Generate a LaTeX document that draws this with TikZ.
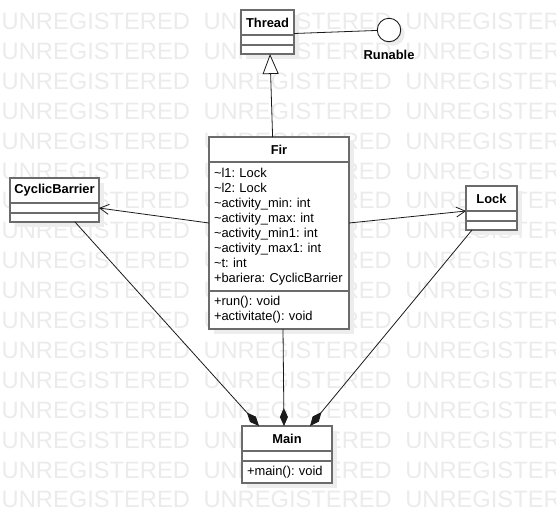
\documentclass[tikz,border=0pt]{standalone}
\usepackage{fontspec}
\setmainfont{Liberation Sans}
\usetikzlibrary{positioning,arrows.meta,shadows}
\definecolor{umlgray}{HTML}{6B6B6B}
\definecolor{wmgray}{HTML}{EBEBEB}
\definecolor{shadowgray}{HTML}{EDEDED}
\definecolor{linkblack}{HTML}{1A1A1A}
\frenchspacing

\begin{document}
\begin{tikzpicture}[
    x=1pt, y=-1pt,
    every node/.style={font=\fontsize{12.9}{15}\selectfont},
    wmark/.style={
        font=\fontsize{23.7}{24}\selectfont, text=wmgray,
        inner sep=0pt, anchor=base west
    },
    classname/.style={
        draw=umlgray, fill=white, line width=1.5pt,
        inner sep=0pt, outer sep=0pt,
        minimum width=#1, minimum height=25pt,
        font=\fontsize{12.9}{15}\selectfont\bfseries,
        drop shadow={shadow xshift=5pt, shadow yshift=-5pt, fill=shadowgray, opacity=1}
    },
    compart/.style={
        draw=umlgray, fill=white, line width=1.5pt,
        inner xsep=5pt, inner ysep=0pt, outer sep=0pt,
        minimum height=#1, align=left,
        drop shadow={shadow xshift=5pt, shadow yshift=-5pt, fill=shadowgray, opacity=1}
    },
    iface/.style={
        circle, draw=linkblack, fill=white, line width=0.9pt,
        minimum size=23.5pt, inner sep=0pt,
        drop shadow={shadow xshift=4pt, shadow yshift=-4pt, fill=shadowgray, opacity=1}
    },
    assoc/.style={-{Straight Barb[length=9pt, width=10pt]}, line width=0.8pt, color=linkblack},
    gen/.style={-{Triangle[length=20pt, width=16pt, fill=white]}, line width=0.8pt, color=linkblack},
    comp/.style={{Diamond[length=18pt, width=8pt]}-, line width=0.8pt, color=linkblack},
]
\useasboundingbox (0,0) rectangle (556,523);

% === Watermark ===
\foreach \r in {0,...,16}
    \foreach \c in {0,1,2}
        \node[wmark] (wm-\r-\c) at (1.5+201.8*\c, 29.5+29.9*\r) {UNREGISTERED};

% === Thread ===
\node[classname=53pt, anchor=north west] (threadname) at (241,10) {Thread};
\node[compart=10pt, minimum width=53pt, below=0pt of threadname] (threadattr) {};
\node[compart=9pt, minimum width=53pt, below=0pt of threadattr] (threadmeth) {};

% Runable interface
\node[iface] (runable) at (389,30) {};
\node[font=\fontsize{12.9}{15}\selectfont\bfseries, inner sep=0pt, below=7.5pt of runable] (runlabel) {Runable};

% === Fir ===
\node[classname=140pt, anchor=north west] (firname) at (209,137) {Fir};
\node[compart=129pt, text width=130pt, below=0pt of firname] (firattr) {%
    \textasciitilde l1: Lock\\
    \textasciitilde l2: Lock\\
    \textasciitilde activity\_min: int\\
    \textasciitilde activity\_max: int\\
    \textasciitilde activity\_min1: int\\
    \textasciitilde activity\_max1: int\\
    \textasciitilde t: int\\
    +bariera: CyclicBarrier};
\node[compart=38pt, text width=130pt, below=0pt of firattr] (firmeth) {%
    +run(): void\\
    +activitate(): void};

% === CyclicBarrier ===
\node[classname=89pt, anchor=north west] (cbname) at (10,178) {CyclicBarrier};
\node[compart=10pt, minimum width=89pt, below=0pt of cbname] (cbattr) {};
\node[compart=9pt, minimum width=89pt, below=0pt of cbattr] (cbmeth) {};

% === Lock ===
\node[classname=51pt, anchor=north west] (lockname) at (466,186) {Lock};
\node[compart=10pt, minimum width=51pt, below=0pt of lockname] (lockattr) {};
\node[compart=9pt, minimum width=51pt, below=0pt of lockattr] (lockmeth) {};

% === Main ===
\node[classname=90pt, anchor=north west] (mainname) at (242,426) {Main};
\node[compart=10pt, minimum width=90pt, below=0pt of mainname] (mainattr) {};
\node[compart=22pt, text width=80pt, below=0pt of mainattr] (mainmeth) {+main(): void};

% === Connectors ===
\draw[line width=0.8pt, color=linkblack] ([yshift=1.5pt]threadname.south east) -- (runable);
\draw[gen] ([xshift=-6.4pt]firname.north) -- ([xshift=2.5pt]threadmeth.south);
\draw[assoc] ([yshift=3.5pt]firattr.west) -- (cbattr.east);
\draw[assoc] ([yshift=3.5pt]firattr.east) -- (lockname.south west);

% compositions into Main
\draw[comp] ([xshift=-28pt]mainname.north) -- ([xshift=20.5pt]cbmeth.south);
\draw[comp] ([xshift=-3pt]mainname.north) -- ([xshift=4pt]firmeth.south);
\draw[comp] ([xshift=23pt]mainname.north) -- ([xshift=-19.5pt]lockmeth.south);

\end{tikzpicture}
\end{document}
